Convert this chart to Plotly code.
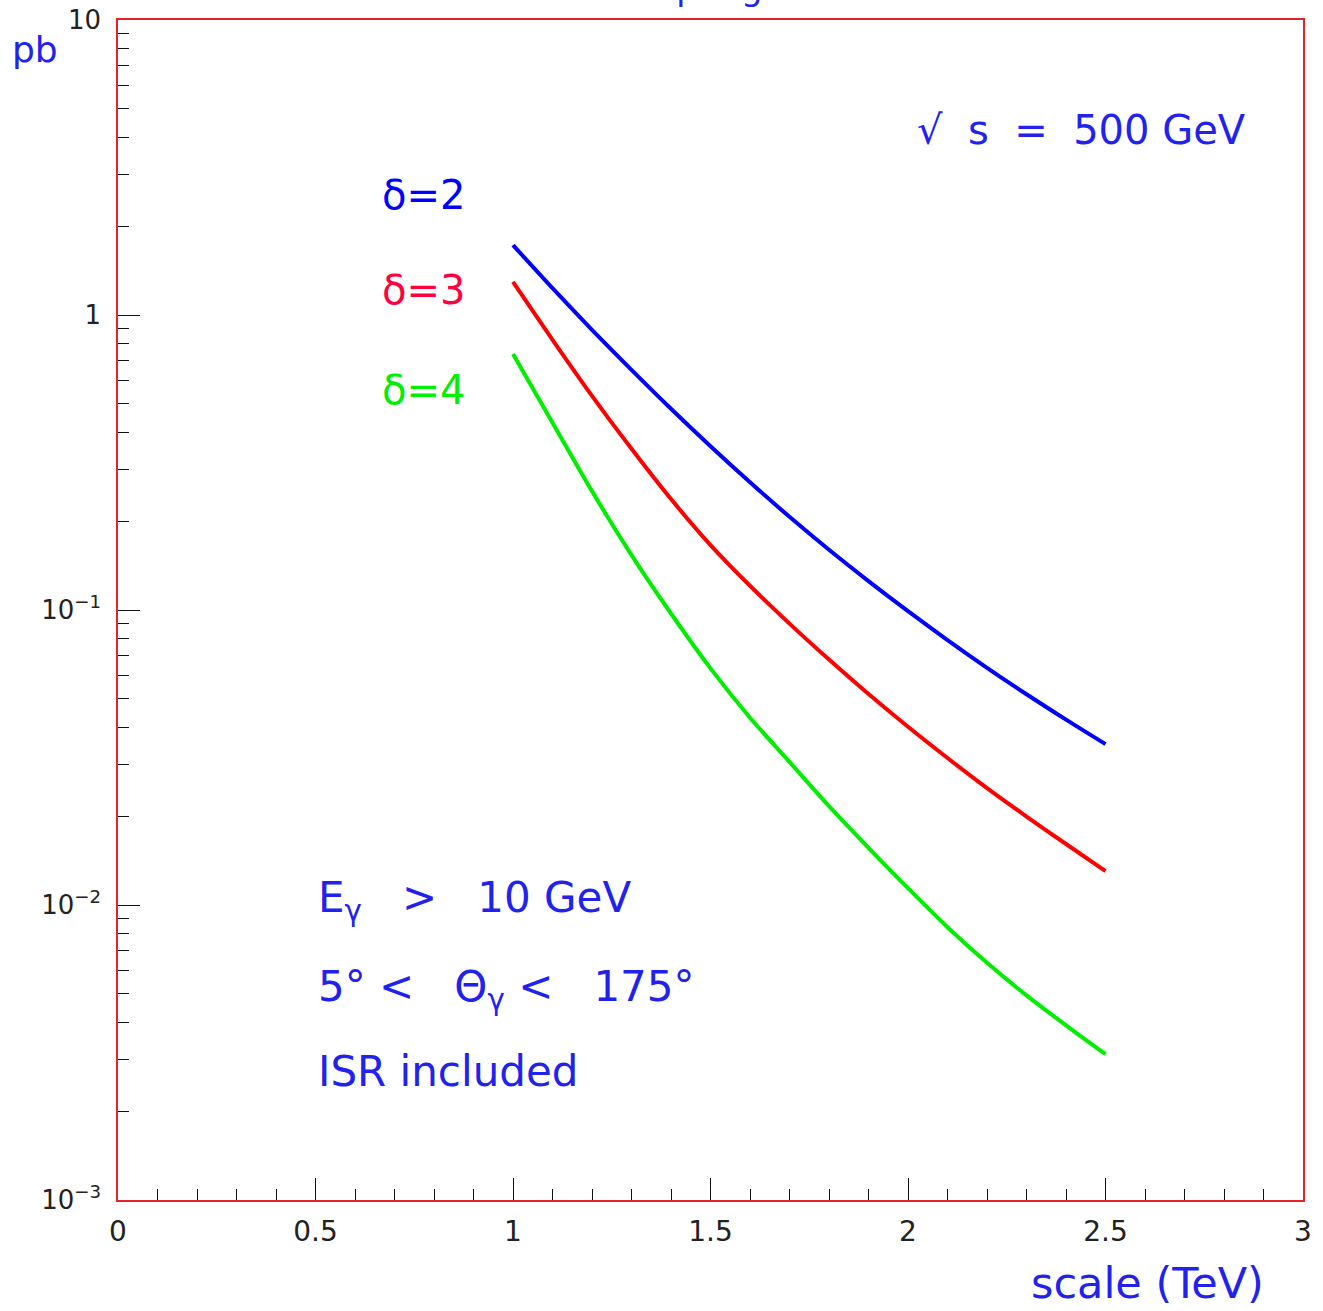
import plotly.graph_objects as go

# scale (TeV)
scale_tev = [1.0, 1.1, 1.2, 1.3, 1.4, 1.5, 1.6, 1.7, 1.8, 1.9, 2.0, 2.1, 2.2, 2.3, 2.4, 2.5]
# cross section (pb)
sigma_delta2 = [1.726, 1.233, 0.891, 0.652, 0.481, 0.359, 0.271, 0.207, 0.160, 0.1253,
                0.0991, 0.0791, 0.0637, 0.0518, 0.0425, 0.0351]
sigma_delta3 = [1.294, 0.824, 0.532, 0.352, 0.2377, 0.166, 0.1208, 0.0899, 0.0679, 0.0519,
                0.0402, 0.0315, 0.0249, 0.01995, 0.0161, 0.01303]
sigma_delta4 = [0.738, 0.4315, 0.2529, 0.1535, 0.0973, 0.0634, 0.04315, 0.03055, 0.02163, 0.01563,
                0.01140, 0.00841, 0.00637, 0.00494, 0.00391, 0.00312]

x_tickvals = [0, 0.5, 1, 1.5, 2, 2.5, 3]
x_ticktext = ["0", "0.5", "1", "1.5", "2", "2.5", "3"]
y_tickvals = [0.001, 0.01, 0.1, 1, 10]
y_ticktext = ["10<sup>−3</sup>", "10<sup>−2</sup>", "10<sup>−1</sup>", "1", "10"]

BLUE = "#0000ff"
RED = "#ff0000"
GREEN = "#00ee00"
TXT = "#2222ee"
FONT = "DejaVu Sans"

fig = go.Figure()
for ys, col in [(sigma_delta2, BLUE), (sigma_delta3, RED), (sigma_delta4, GREEN)]:
    fig.add_trace(go.Scatter(x=scale_tev, y=ys, mode="lines",
                             line=dict(color=col, width=4, shape="spline", smoothing=0.8),
                             showlegend=False, hoverinfo="skip"))

y_minor = [k * 10.0 ** e for e in range(-3, 1) for k in range(2, 10)]

fig.update_layout(
    width=1323, height=1311,
    margin=dict(l=118, r=20, t=20, b=111, autoexpand=False),
    paper_bgcolor="white", plot_bgcolor="white",
    font=dict(family=FONT, color="#222222"),
    xaxis=dict(range=[0, 3], tickmode="array", tickvals=x_tickvals, ticktext=x_ticktext,
               automargin=False,
               ticks="inside", ticklen=22, tickwidth=1, tickcolor="#111111",
               showline=True, linecolor="#e8202a", linewidth=1.5, mirror=True,
               showgrid=False, zeroline=False,
               tickfont=dict(size=28, family=FONT, color="#222222"),
               ticklabelstandoff=6,
               minor=dict(dtick=0.1, ticks="inside", ticklen=11, tickwidth=1,
                          tickcolor="#111111", showgrid=False)),
    yaxis=dict(type="log", range=[-3, 1], tickmode="array", tickvals=y_tickvals,
               ticktext=y_ticktext, automargin=False,
               ticks="inside", ticklen=22, tickwidth=1, tickcolor="#111111",
               showline=True, linecolor="#e8202a", linewidth=1.5, mirror=True,
               showgrid=False, zeroline=False,
               tickfont=dict(size=26, family=FONT, color="#222222"),
               ticklabelstandoff=10,
               minor=dict(tickmode="array", tickvals=y_minor, ticks="inside", ticklen=11,
                          tickwidth=1, tickcolor="#111111", showgrid=False)),
)

def txt(text, x, y, size, color=TXT, xanchor="left", yanchor="middle"):
    fig.add_annotation(text=text, x=x, y=y, xref="paper", yref="paper",
                       xanchor=xanchor, yanchor=yanchor, showarrow=False,
                       font=dict(size=size, color=color, family=FONT))

txt("e<sup>+</sup>e<sup>−</sup> → γ + graviton", 0.50, 1.0085, 34, yanchor="bottom", xanchor="center")
txt("pb", -0.0911, 0.9746, 36)
txt("√  s  =  500 GeV", 0.6726, 0.9068, 40)
txt("δ=2", 0.2211, 0.8517, 40, color=BLUE)
txt("δ=3", 0.2211, 0.7712, 40, color="#ff0040")
txt("δ=4", 0.2211, 0.6864, 40, color=GREEN)
txt("E<sub>γ</sub>   >   10 GeV", 0.1671, 0.2542, 42)
txt("5° <   Θ<sub>γ</sub> <   175°", 0.1671, 0.178, 42)
txt("ISR included", 0.1671, 0.1085, 42)
txt("scale (TeV)", 0.969, -0.0703, 43, xanchor="right")

fig.write_html("out.html")
